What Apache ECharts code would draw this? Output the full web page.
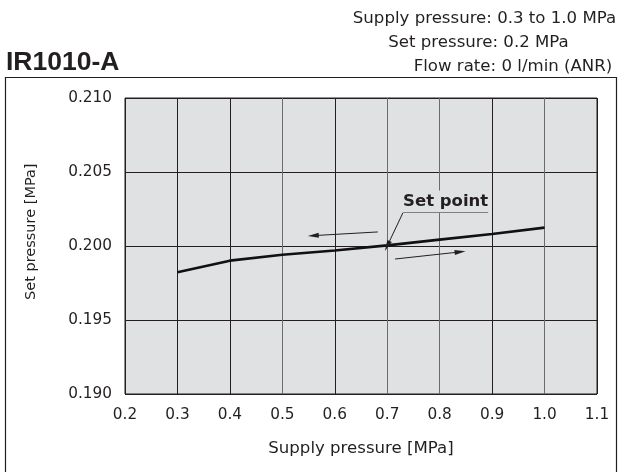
<!DOCTYPE html>
<html>
<head>
<meta charset="utf-8">
<script src="https://cdn.jsdelivr.net/npm/echarts@6/dist/echarts.min.js"></script>
<style>
html,body{margin:0;padding:0;background:#fff;}
#chart{width:621px;height:474px;}
</style>
</head>
<body>
<div id="chart"></div>
<script>
// ---- data ----
var supplyPressure = [0.3, 0.4, 0.5, 0.6, 0.7, 0.8, 0.9, 1.0];
var setPressure = [0.19822, 0.19901, 0.19941, 0.19970, 0.20004, 0.20043, 0.20081, 0.20124];
var xTicks = ['0.2','0.3','0.4','0.5','0.6','0.7','0.8','0.9','1.0','1.1'];
var yTicks = ['0.190','0.195','0.200','0.205','0.210'];
var titleText = 'IR1010-A';
var headerLines = ['Supply pressure: 0.3 to 1.0 MPa', 'Set pressure: 0.2 MPa', 'Flow rate: 0 l/min (ANR)'];
var xName = 'Supply pressure [MPa]';
var yName = 'Set pressure [MPa]';
var setPointLabel = 'Set point';
var setPoint = [0.7, 0.2];
// arrows (tail -> head) in data units
var decreaseArrow = [[0.682, 0.20095], [0.559, 0.20070]];
var increaseArrow = [[0.715, 0.19912], [0.839, 0.19960]];
var labelUnderline = [[0.7303, 0.20227], [0.8925, 0.20227]];
var labelAnchor = [0.8114, 0.20301];

var F = 'DejaVu Sans';
var ink = '#231f20';
var soft = '#6b6b6b';
var plotBg = '#e0e1e3';

var chart = echarts.init(document.getElementById('chart'), null, {renderer: 'canvas'});
var option = {
  animation: false,
  backgroundColor: '#ffffff',
  grid: {left: 125, top: 98, width: 472, height: 296, show: true,
         backgroundColor: plotBg, borderColor: ink, borderWidth: 1},
  xAxis: {
    type: 'value', min: 0.2, max: 1.1, interval: 0.1,
    name: xName, nameLocation: 'middle', nameGap: 46.5,
    nameTextStyle: {fontFamily: F, fontSize: 16.6, color: ink},
    axisLine: {show: false}, axisTick: {show: false},
    axisLabel: {margin: 14, fontFamily: F, fontSize: 15.3, color: ink,
      formatter: function (v) { var i = Math.round((v - 0.2) / 0.1); return xTicks[i] || ''; }},
    splitLine: {show: true, lineStyle: {width: 1,
      color: [ink, ink, ink, soft, ink, soft, soft, ink, soft, ink]}}
  },
  yAxis: {
    type: 'value', min: 0.19, max: 0.21, interval: 0.005,
    axisLine: {show: false}, axisTick: {show: false},
    axisLabel: {margin: 13, fontFamily: F, fontSize: 15.3, color: ink,
      formatter: function (v) { var i = Math.round((v - 0.19) / 0.005); return yTicks[i] || ''; }},
    splitLine: {show: true, lineStyle: {color: ink, width: 1}}
  },
  series: [{
    type: 'line',
    data: supplyPressure.map(function (x, i) { return [x, setPressure[i]]; }),
    showSymbol: false, symbol: 'none', silent: true,
    lineStyle: {color: '#111', width: 2.6},
    markLine: {
      silent: true, animation: false,
      symbol: ['none', 'triangle'], symbolSize: [5, 11],
      label: {show: false},
      emphasis: {disabled: true},
      lineStyle: {color: ink, width: 1, type: 'solid'},
      data: [
        [{coord: decreaseArrow[0]}, {coord: decreaseArrow[1]}],
        [{coord: increaseArrow[0]}, {coord: increaseArrow[1]}],
        [{coord: labelUnderline[0], symbol: 'none'}, {coord: labelUnderline[1], symbol: 'none'}],
        [{coord: labelUnderline[0]}, {coord: setPoint}]
      ]
    },
    markPoint: {
      silent: true, symbol: 'circle', symbolSize: 0,
      itemStyle: {color: 'rgba(0,0,0,0)'},
      label: {show: true, position: 'inside', formatter: setPointLabel,
        fontFamily: F, fontWeight: 'bold', fontSize: 16.5, color: ink,
        backgroundColor: plotBg, padding: [3, 1, 2, 1]},
      data: [{coord: labelAnchor}]
    }
  }],
  graphic: [
    {type: 'polyline', silent: true,
     shape: {points: [[5.5, 472], [5.5, 77.5], [616.5, 77.5], [616.5, 472]]},
     style: {stroke: ink, lineWidth: 1.2, fill: null}},
    {type: 'text', left: 6, top: 49, silent: true,
     style: {text: titleText, fontFamily: 'Liberation Sans', fontWeight: 'bold', fontSize: 26.5, fill: ink}},
    {type: 'text', x: 484.5, y: 19, silent: true,
     style: {text: headerLines[0], fontFamily: F, fontSize: 16.6, fill: ink, align: 'center', verticalAlign: 'middle'}},
    {type: 'text', x: 478.5, y: 43, silent: true,
     style: {text: headerLines[1], fontFamily: F, fontSize: 16.6, fill: ink, align: 'center', verticalAlign: 'middle'}},
    {type: 'text', x: 513, y: 66.7, silent: true,
     style: {text: headerLines[2], fontFamily: F, fontSize: 16.6, fill: ink, align: 'center', verticalAlign: 'middle'}},
    {type: 'text', x: 31.3, y: 231.7, rotation: Math.PI / 2, silent: true,
     style: {text: yName, fontFamily: F, fontSize: 14.5, fill: ink, align: 'center', verticalAlign: 'middle'}}
  ]
};
chart.setOption(option);
</script>
</body>
</html>
